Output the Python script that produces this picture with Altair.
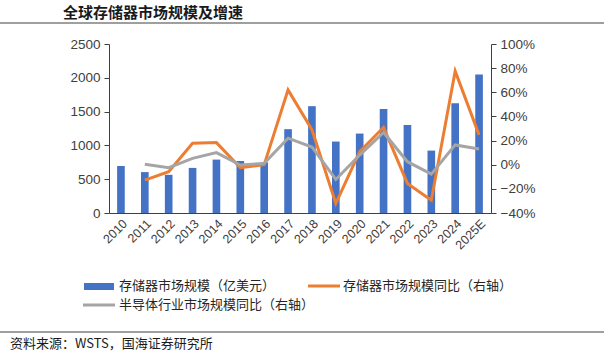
import altair as alt
import pandas as pd

years = ["2010", "2011", "2012", "2013", "2014", "2015", "2016", "2017",
         "2018", "2019", "2020", "2021", "2022", "2023", "2024", "2025E"]
memory_size = [695, 605, 565, 667, 790, 768, 748, 1240, 1580, 1057, 1175,
               1538, 1303, 923, 1625, 2049]
memory_yoy = [None, -12.8, -5.8, 17.8, 18.3, -2.5, 0.0, 62.0, 29.0, -32.0,
              10.8, 31.0, -15.5, -29.4, 77.5, 24.7]
semi_yoy = [None, 0.3, -2.5, 5.3, 10.0, -0.3, 1.1, 22.0, 14.7, -12.2,
            8.0, 26.7, 2.5, -7.8, 16.4, 13.0]

series_names = ["存储器市场规模（亿美元）", "存储器市场规模同比（右轴）", "半导体行业市场规模同比（右轴）"]
series_colors = ["#4472C4", "#ED7D31", "#A5A5A5"]
title_text = "全球存储器市场规模及增速"
source_text = "资料来源：WSTS，国海证券研究所"

W, H = 382, 169
LEFT, TOP = 109, 44

bar_df = pd.DataFrame({"year": years, "size": memory_size})
line_rows = []
for y, a, b in zip(years, memory_yoy, semi_yoy):
    if a is not None:
        line_rows.append({"year": y, "series": series_names[1], "yoy": a / 100})
    if b is not None:
        line_rows.append({"year": y, "series": series_names[2], "yoy": b / 100})
line_df = pd.DataFrame(line_rows)

num_font = "Liberation Sans"
cjk_font = "Noto Sans CJK SC"
axis_col = "#404040"

xenc = alt.X("year:N", sort=years,
             scale=alt.Scale(paddingInner=0.68, paddingOuter=0.34),
             axis=alt.Axis(title=None, labelAngle=-45, labelFont=num_font,
                           labelFontSize=12.5, labelColor=axis_col,
                           domainColor=axis_col, ticks=False, labelPadding=4))

bars = alt.Chart(bar_df).mark_bar(color=series_colors[0]).encode(
    x=xenc,
    y=alt.Y("size:Q", scale=alt.Scale(domain=[0, 2500], nice=False),
            axis=alt.Axis(title=None, values=[0, 500, 1000, 1500, 2000, 2500], format="d",
                          labelFont=num_font, labelFontSize=13.5, labelColor=axis_col,
                          domainColor=axis_col, tickColor=axis_col, tickSize=5,
                          labelPadding=4, grid=False, orient="left"))
)

lines = alt.Chart(line_df).mark_line(strokeWidth=3).encode(
    x=alt.X("year:N", sort=years),
    y=alt.Y("yoy:Q", scale=alt.Scale(domain=[-0.4, 1.0], nice=False),
            axis=alt.Axis(title=None, values=[-0.4, -0.2, 0, 0.2, 0.4, 0.6, 0.8, 1.0],
                          format=".0%", labelFont=num_font, labelFontSize=13.5,
                          labelColor=axis_col, domainColor=axis_col, tickColor=axis_col,
                          tickSize=5, labelPadding=4, grid=False, orient="right")),
    color=alt.Color("series:N", scale=alt.Scale(domain=series_names[1:], range=series_colors[1:]),
                    legend=None),
    order=alt.Order("series:N", sort="ascending"),
)

one = pd.DataFrame({"k": [0]})
base = alt.Chart(one)

title = base.mark_text(text=title_text, font=cjk_font, fontSize=15, fontWeight="bold",
                       align="left", baseline="middle", color="#1a1a1a").encode(
    x=alt.value(63 - LEFT), y=alt.value(13 - TOP))
top_rule = base.mark_rule(color="#404040", strokeWidth=1.2).encode(
    x=alt.value(-LEFT), x2=alt.value(604 - LEFT), y=alt.value(23 - TOP))
bottom_rule = base.mark_rule(color="#404040", strokeWidth=1.2).encode(
    x=alt.value(-LEFT), x2=alt.value(604 - LEFT), y=alt.value(332 - TOP))
source = base.mark_text(text=source_text, font=cjk_font, fontSize=13,
                        align="left", baseline="middle", color="#1a1a1a").encode(
    x=alt.value(10 - LEFT), y=alt.value(344 - TOP))

leg_rect = base.mark_rect(color=series_colors[0]).encode(
    x=alt.value(84 - LEFT), x2=alt.value(114 - LEFT),
    y=alt.value(283 - TOP), y2=alt.value(290 - TOP))
leg_orange = base.mark_rule(color=series_colors[1], strokeWidth=3).encode(
    x=alt.value(308 - LEFT), x2=alt.value(340 - LEFT), y=alt.value(286 - TOP))
leg_grey = base.mark_rule(color=series_colors[2], strokeWidth=3).encode(
    x=alt.value(83 - LEFT), x2=alt.value(115 - LEFT), y=alt.value(305 - TOP))


def leg_text(txt, x, y):
    return base.mark_text(text=txt, font=cjk_font, fontSize=13, align="left",
                          baseline="middle", color="#262626").encode(
        x=alt.value(x - LEFT), y=alt.value(y - TOP))


leg_t1 = leg_text(series_names[0], 119, 286)
leg_t2 = leg_text(series_names[1], 343, 286)
leg_t3 = leg_text(series_names[2], 119, 305)

chart = alt.layer(
    bars, lines, title, top_rule, bottom_rule, source,
    leg_rect, leg_orange, leg_grey, leg_t1, leg_t2, leg_t3
).resolve_scale(y="independent").properties(
    width=W, height=H,
    autosize=alt.AutoSizeParams(type="none"),
    padding={"left": LEFT, "top": TOP, "right": 604 - LEFT - W, "bottom": 353 - TOP - H},
    background="white",
).configure_view(stroke=None)

chart.save("out.html", embed_options={"renderer": "svg", "actions": False})
